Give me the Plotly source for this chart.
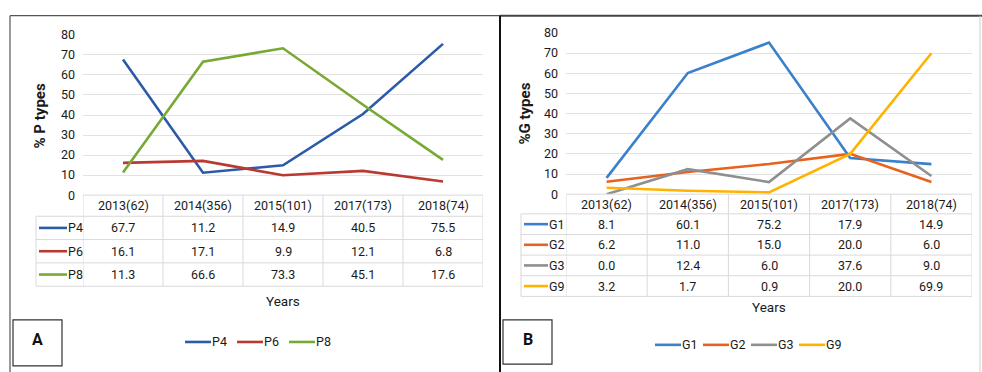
import plotly.graph_objects as go

W, H = 982, 372

# ---------------- data ----------------
years = ["2013(62)", "2014(356)", "2015(101)", "2017(173)", "2018(74)"]
P4 = [67.7, 11.2, 14.9, 40.5, 75.5]
P6 = [16.1, 17.1, 9.9, 12.1, 6.8]
P8 = [11.3, 66.6, 73.3, 45.1, 17.6]
G1 = [8.1, 60.1, 75.2, 17.9, 14.9]
G2 = [6.2, 11.0, 15.0, 20.0, 6.0]
G3 = [0.0, 12.4, 6.0, 37.6, 9.0]
G9 = [3.2, 1.7, 0.9, 20.0, 69.9]
p_names = ["P4", "P6", "P8"]
g_names = ["G1", "G2", "G3", "G9"]
y_ticks = [0, 10, 20, 30, 40, 50, 60, 70, 80]

p_colors = ["#2B5BA8", "#B93A32", "#78A935"]
g_colors = ["#3A80CC", "#E8621F", "#8F8F8F", "#FFB300"]

FONT = "Roboto, Liberation Sans, sans-serif"
TXT = "#1A1A1A"
GRID = "#E2E2E2"
TBL = "#D9D9D9"
FS = 12.5


def px(x):
    return x / W


def py(y):
    return 1 - y / H


def note(x, y, text, xref="paper", size=FS, xanchor="center", **kw):
    d = dict(x=x, y=y, xref=xref, yref="paper", text=text, showarrow=False,
             xanchor=xanchor, yanchor="middle",
             font=dict(family=FONT, size=size, color=kw.pop("color", TXT)))
    d.update(kw)
    return d


panels = [
    dict(names=p_names, series=[P4, P6, P8], colors=p_colors, xa="x", ya="y",
         x0=83, x1=483, y0=195, y80=28, hh=22, rh=24.3, lab_left=36,
         ln0=39, ln1=67, ytitle="% P types", ytx=40, yty=113,
         years_xy=(283, 305), box=(13, 62, 325, 373), letter="A",
         leg_x=185, leg_step=52, leg_y=348),
    dict(names=g_names, series=[G1, G2, G3, G9], colors=g_colors, xa="x2", ya="y2",
         x0=566, x1=972, y0=194, y80=26, hh=20.5, rh=21.5, lab_left=521,
         ln0=524, ln1=548, ytitle="%G types", ytx=525, yty=110,
         years_xy=(769, 312), box=(503, 552, 325, 371), letter="B",
         leg_x=655, leg_step=48, leg_y=351),
]

fig = go.Figure()
shapes = []
annotations = []
layout_axes = {}

for k, p in enumerate(panels):
    sfx = "" if k == 0 else "2"
    # lines
    for name, vals, col in zip(p["names"], p["series"], p["colors"]):
        fig.add_trace(go.Scatter(x=years, y=vals, mode="lines", name=name,
                                 line=dict(color=col, width=2.6),
                                 xaxis=p["xa"], yaxis=p["ya"], showlegend=False))
    layout_axes["xaxis" + sfx] = dict(
        domain=[px(p["x0"]), px(p["x1"])], type="category", range=[-0.5, 4.5],
        showticklabels=False, showgrid=False, zeroline=False, showline=False,
        anchor=p["ya"], fixedrange=True)
    layout_axes["yaxis" + sfx] = dict(
        domain=[py(p["y0"]), py(p["y80"])], range=[0, 80], tickvals=y_ticks,
        showgrid=True, gridcolor=GRID, gridwidth=1, zeroline=False,
        showline=False, ticks="", ticklabelstandoff=7,
        tickfont=dict(family=FONT, size=FS, color=TXT), anchor=p["xa"],
        fixedrange=True)

    # ---- data table ----
    top = p["y0"]
    hb = top + p["hh"]
    nrows = len(p["names"])
    bottom = hb + nrows * p["rh"]
    shapes.append(dict(type="line", xref="paper", yref="paper",
                       x0=px(p["x0"]), x1=px(p["x1"]), y0=py(top), y1=py(top),
                       line=dict(color=TBL, width=1)))
    for r in range(nrows + 1):
        yy = hb + r * p["rh"]
        shapes.append(dict(type="line", xref="paper", yref="paper",
                           x0=px(p["lab_left"]), x1=px(p["x1"]), y0=py(yy), y1=py(yy),
                           line=dict(color=TBL, width=1)))
    for i in range(len(years) + 1):
        shapes.append(dict(type="line", xref=p["xa"], yref="paper",
                           x0=i - 0.5, x1=i - 0.5, y0=py(top), y1=py(bottom),
                           line=dict(color=TBL, width=1)))
    shapes.append(dict(type="line", xref="paper", yref="paper",
                       x0=px(p["lab_left"]), x1=px(p["lab_left"]), y0=py(hb), y1=py(bottom),
                       line=dict(color=TBL, width=1)))
    for yr in years:
        annotations.append(note(yr, py((top + hb) / 2), yr, xref=p["xa"]))
    for r, (name, vals, col) in enumerate(zip(p["names"], p["series"], p["colors"])):
        yc = hb + (r + 0.5) * p["rh"]
        shapes.append(dict(type="line", xref="paper", yref="paper",
                           x0=px(p["ln0"]), x1=px(p["ln1"]), y0=py(yc), y1=py(yc),
                           line=dict(color=col, width=2.6)))
        annotations.append(note(px(p["ln1"] + 0.5), py(yc), name, xanchor="left",
                                xshift=-2))
        for yr, v in zip(years, vals):
            annotations.append(note(yr, py(yc), f"{v:.1f}", xref=p["xa"]))

    # axis titles
    annotations.append(note(px(p["ytx"]), py(p["yty"]), "<b>" + p["ytitle"] + "</b>",
                            size=15, textangle=-90))
    annotations.append(note(px(p["years_xy"][0]), py(p["years_xy"][1]), "Years", size=13.5))
    # letter box
    bx0, bx1, by0, by1 = p["box"]
    shapes.append(dict(type="rect", xref="paper", yref="paper",
                       x0=px(bx0), x1=px(bx1), y0=py(by0), y1=py(by1),
                       line=dict(color="#333333", width=1.2), fillcolor="white"))
    annotations.append(note(px((bx0 + bx1) / 2), py(345), "<b>" + p["letter"] + "</b>",
                            size=16, color="#111111"))
    # bottom legend
    for j, (name, col) in enumerate(zip(p["names"], p["colors"])):
        lx = p["leg_x"] + j * p["leg_step"]
        shapes.append(dict(type="line", xref="paper", yref="paper",
                           x0=px(lx), x1=px(lx + 26), y0=py(p["leg_y"]), y1=py(p["leg_y"]),
                           line=dict(color=col, width=2.6)))
        annotations.append(note(px(lx + 26.5), py(p["leg_y"]), name, xanchor="left",
                                xshift=-2))

# panel frames
shapes.append(dict(type="line", xref="paper", yref="paper", x0=px(10), x1=px(10),
                   y0=py(8), y1=py(380), line=dict(color="#555555", width=1.2)))
shapes.append(dict(type="line", xref="paper", yref="paper", x0=px(10), x1=px(500),
                   y0=py(8), y1=py(8), line=dict(color="#555555", width=1.2)))
shapes.append(dict(type="line", xref="paper", yref="paper", x0=px(500), x1=px(982),
                   y0=py(8), y1=py(8), line=dict(color="#444444", width=2)))
shapes.append(dict(type="line", xref="paper", yref="paper", x0=px(500), x1=px(500),
                   y0=py(8), y1=py(380), line=dict(color="#111111", width=2)))
shapes.append(dict(type="line", xref="paper", yref="paper", x0=px(980), x1=px(980),
                   y0=py(8), y1=py(380), line=dict(color="#CCCCCC", width=1)))

fig.update_layout(width=W, height=H, margin=dict(l=0, r=0, t=0, b=0),
                  paper_bgcolor="white", plot_bgcolor="white",
                  shapes=shapes, annotations=annotations, showlegend=False,
                  font=dict(family=FONT, color=TXT), **layout_axes)

fig.write_html("out.html")
